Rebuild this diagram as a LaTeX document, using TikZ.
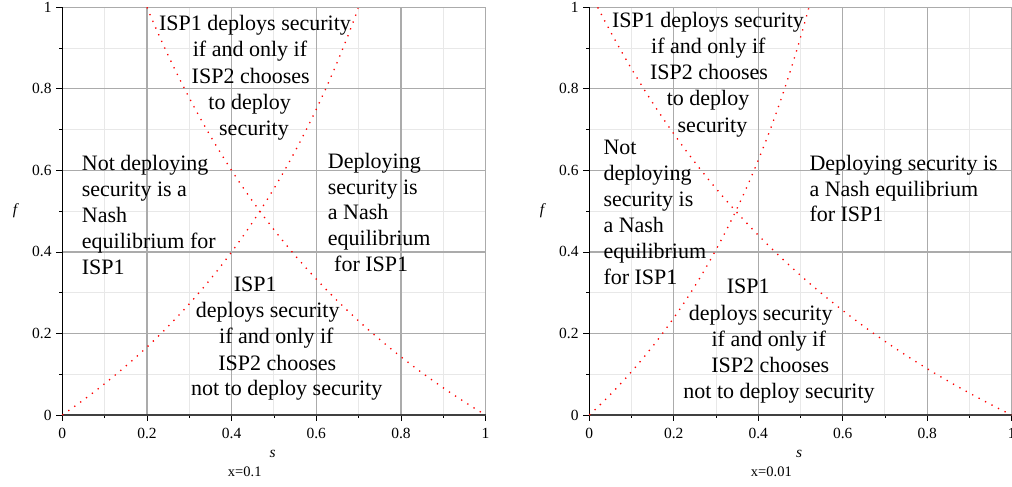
\documentclass[tikz,border=0pt]{standalone}
\usepackage{fontspec}
\setmainfont{Liberation Serif}

\tikzset{
  gridmajor/.style={draw=black!33, line width=1.2pt},
  gridminor/.style={draw=black!9, line width=1pt},
  yaxisline/.style={draw=black, line width=1pt},
  xaxisline/.style={draw=black!75, line width=1.6pt},
  tickmark/.style={draw=black, line width=0.8pt},
  curve/.style={draw=red, line width=1.3pt, dash pattern=on 1.3pt off 6pt},
  ticklbl/.style={font=\fontsize{15.5}{18}\selectfont, inner sep=0pt},
  region/.style={font=\fontsize{22}{26}\selectfont, inner sep=0pt, anchor=base},
  regionl/.style={region, anchor=base west},
}

% One panel: #1 name prefix, #2 origin x (px), #3 axis width (px), #4 value of x
\newcommand\eqpanel[4]{%
  \begin{scope}[shift={(#2,415)}, x=#3pt, y=407.7pt]
    \foreach \v in {0.1,0.3,0.5,0.7,0.9} {
      \draw[gridminor] (\v,0) -- (\v,1);
      \draw[gridminor] (0,\v) -- (1,\v);
    }
    \foreach \v in {0.2,0.4,0.6,0.8,1} {
      \draw[gridmajor] (\v,0) -- (\v,1);
      \draw[gridmajor] (0,\v) -- (1,\v);
    }
    \foreach \v in {0.1,0.3,0.5,0.7,0.9} {
      \draw[tickmark] (0,\v) -- ++(-3pt,0);
      \draw[tickmark] (\v,0) -- ++(0,-3pt);
    }
    \foreach \v in {0,0.2,0.4,0.6,0.8,1} {
      \draw[tickmark] (0,\v) -- ++(-6pt,0);
      \draw[tickmark] (\v,0) -- ++(0,-6pt);
    }
    \coordinate (#1o) at (0,0);
    \coordinate (#1t) at (0,1);
    \coordinate (#1r) at (1,0);
    \draw[yaxisline] (#1o) -- (#1t);
    \draw[xaxisline] (#1o) -- (#1r);
    \foreach \v/\t [count=\i] in {0/0,0.2/0.2,0.4/0.4,0.6/0.6,0.8/0.8,1/1} {
      \node[ticklbl, anchor=east, xshift=-10.5pt] (#1y\i) at (0,\v) {\t};
      \node[ticklbl, anchor=center, yshift=-18pt] (#1x\i) at (\v,0) {\t};
    }
    \node[ticklbl, font=\fontsize{15.5}{18}\selectfont\itshape, yshift=-39pt] (#1s) at (0.497,0) {s};
    \node[ticklbl, font=\fontsize{15.5}{18}\selectfont\itshape, xshift=-47.3pt] (#1f) at (0,0.5) {f};
    \node[ticklbl, font=\fontsize{14.5}{17}\selectfont, yshift=-57pt] (#1x) at (0.431,0) {x=#4};
    % boundary curves of the regions
    \pgfmathsetmacro\ca{1+4*#4}
    \pgfmathsetmacro\cb{1-4*#4}
    \pgfmathsetmacro\cend{\ca/2}
    \pgfmathsetmacro\cstart{2*#4}
    \draw[curve] plot[domain=0:\cend, samples=120, smooth] (\x, {\x/(\ca-\x)});
    \draw[curve] plot[domain=\cstart:1, samples=120, smooth] (\x, {(1-\x)/(\x+\cb)});
  \end{scope}%
}

\begin{document}
\begin{tikzpicture}[x=1pt, y=-1pt]
  \useasboundingbox (0,0) rectangle (1012,487);
  \fill[white] (0,0) rectangle (1012,487);

  \eqpanel{a}{62.3}{423.3}{0.1}
  \eqpanel{b}{589.3}{422.4}{0.01}

  % region labels, left panel
  \foreach \t/\px/\py [count=\i] in {ISP1 deploys security/255/31, if and only if/250/57,
      ISP2 chooses/250.7/83, to deploy/249.7/109, security/254/135}
    \node[region] (at\i) at (\px,\py) {\t};
  \foreach \t/\py [count=\i] in {Not deploying/170, security is a/196, Nash/222,
      equilibrium for/248, ISP1/274}
    \node[regionl] (al\i) at (81.7,\py) {\t};
  \foreach \t/\px/\py [count=\i] in {Deploying/327.7/168, security is/327.7/194, a Nash/327.7/219,
      equilibrium/327.7/245, for ISP1/334/271}
    \node[regionl] (ar\i) at (\px,\py) {\t};
  \foreach \t/\px/\py [count=\i] in {ISP1/255.3/291, deploys security/267.7/317,
      if and only if/276.3/343, ISP2 chooses/277.3/370, not to deploy security/286.7/395}
    \node[region] (ab\i) at (\px,\py) {\t};

  % region labels, right panel
  \foreach \t/\px/\py [count=\i] in {ISP1 deploys security/708/27.7, if and only if/708.3/53.7,
      ISP2 chooses/709/79.3, to deploy/708/106, security/712.5/132}
    \node[region] (bt\i) at (\px,\py) {\t};
  \foreach \t/\py [count=\i] in {Not/154, deploying/180, security is/206, a Nash/232,
      equilibrium/258, for ISP1/284}
    \node[regionl] (bl\i) at (603.3,\py) {\t};
  \foreach \t/\py [count=\i] in {Deploying security is/170.3, a Nash equilibrium/196,
      for ISP1/221.3}
    \node[regionl] (br\i) at (809.3,\py) {\t};
  \foreach \t/\px/\py [count=\i] in {ISP1/748.3/293, deploys security/760.7/320,
      if and only if/768.7/346, ISP2 chooses/770.3/372, not to deploy security/779/398}
    \node[region] (bb\i) at (\px,\py) {\t};
\end{tikzpicture}
\end{document}
